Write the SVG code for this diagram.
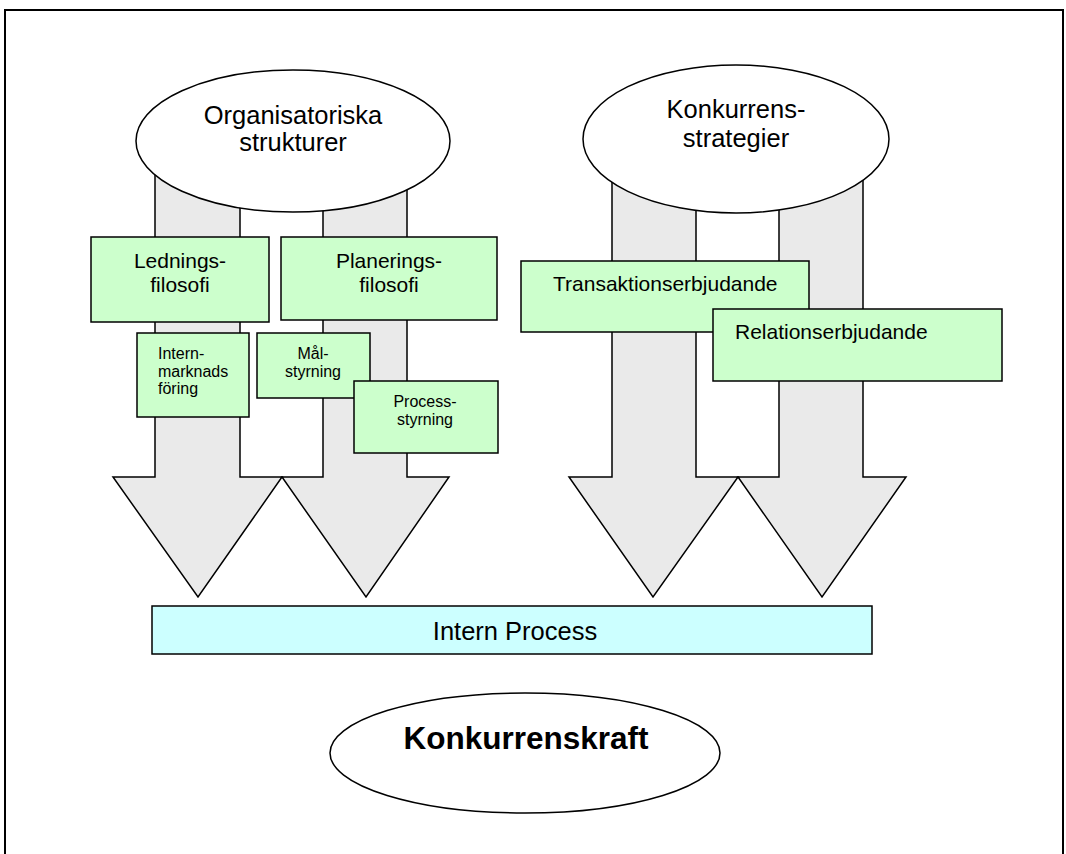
<svg xmlns="http://www.w3.org/2000/svg" width="1066" height="854" viewBox="0 0 1066 854">
<style>
  text { font-family: "Liberation Sans", Arial, sans-serif; fill: #000; }
  .arrow { fill: #eaeaea; stroke: #000; stroke-width: 1.5; stroke-linejoin: miter; }
  .ell { fill: #fff; stroke: #000; stroke-width: 1.5; }
  .box { fill: #ccffcc; stroke: #000; stroke-width: 1.5; }
  .proc { fill: #ccffff; stroke: #000; stroke-width: 1.5; }
  .t26 { font-size: 25.5px; text-anchor: middle; }
  .t21 { font-size: 21px; }
  .t16 { font-size: 16px; }
  .mid { text-anchor: middle; }
</style>
<rect x="0" y="0" width="1066" height="854" fill="#fff"/>
<rect x="5" y="10" width="1058" height="860" fill="none" stroke="#000" stroke-width="2"/>

<g id="connectors">
  <polygon class="arrow" points="155,150 240,150 240,477 282,477 198,597 113,477 155,477"/>
  <polygon class="arrow" points="323,150 407,150 407,477 449,477 366,597 282,477 323,477"/>
  <polygon class="arrow" points="612,150 696,150 696,477 738,477 653,597 569,477 612,477"/>
  <polygon class="arrow" points="779,150 863,150 863,477 906,477 822,597 738,477 779,477"/>
</g>

<g id="organisatoriska">
  <ellipse class="ell" cx="293" cy="141" rx="157" ry="71"/>
  <text class="t26" x="293" y="124">Organisatoriska</text>
  <text class="t26" x="293" y="151">strukturer</text>
</g>

<g id="konkurrensstrategier">
  <ellipse class="ell" cx="736" cy="139" rx="153" ry="74"/>
  <text class="t26" x="736" y="118">Konkurrens-</text>
  <text class="t26" x="736" y="147">strategier</text>
</g>

<g id="ledningsfilosofi">
  <rect class="box" x="91" y="237" width="178" height="85"/>
  <text class="t21 mid" x="180" y="268">Lednings-</text>
  <text class="t21 mid" x="180" y="292">filosofi</text>
</g>

<g id="planeringsfilosofi">
  <rect class="box" x="281" y="237" width="216" height="83"/>
  <text class="t21 mid" x="389" y="268">Planerings-</text>
  <text class="t21 mid" x="389" y="292">filosofi</text>
</g>

<g id="internmarknadsforing">
  <rect class="box" x="137" y="333" width="112" height="84"/>
  <text class="t16" x="158" y="359">Intern-</text>
  <text class="t16" x="158" y="377">marknads</text>
  <text class="t16" x="158" y="394">föring</text>
</g>

<g id="malstyrning">
  <rect class="box" x="257" y="333" width="113" height="65"/>
  <text class="t16 mid" x="313" y="359">Mål-</text>
  <text class="t16 mid" x="313" y="377">styrning</text>
</g>

<g id="processtyrning">
  <rect class="box" x="354" y="381" width="144" height="72"/>
  <text class="t16 mid" x="425" y="407">Process-</text>
  <text class="t16 mid" x="425" y="425">styrning</text>
</g>

<g id="transaktionserbjudande">
  <rect class="box" x="521" y="261" width="288" height="71"/>
  <text class="t21" x="553" y="291">Transaktionserbjudande</text>
</g>

<g id="relationserbjudande">
  <rect class="box" x="713" y="309" width="289" height="72"/>
  <text class="t21" x="735" y="339">Relationserbjudande</text>
</g>

<g id="internprocess">
  <rect class="proc" x="152" y="606" width="720" height="48"/>
  <text x="515" y="640" font-size="25.5" text-anchor="middle">Intern Process</text>
</g>

<g id="konkurrenskraft">
  <ellipse class="ell" cx="525" cy="753" rx="195" ry="60"/>
  <text x="526" y="749" font-size="31.5" font-weight="bold" text-anchor="middle">Konkurrenskraft</text>
</g>
</svg>
